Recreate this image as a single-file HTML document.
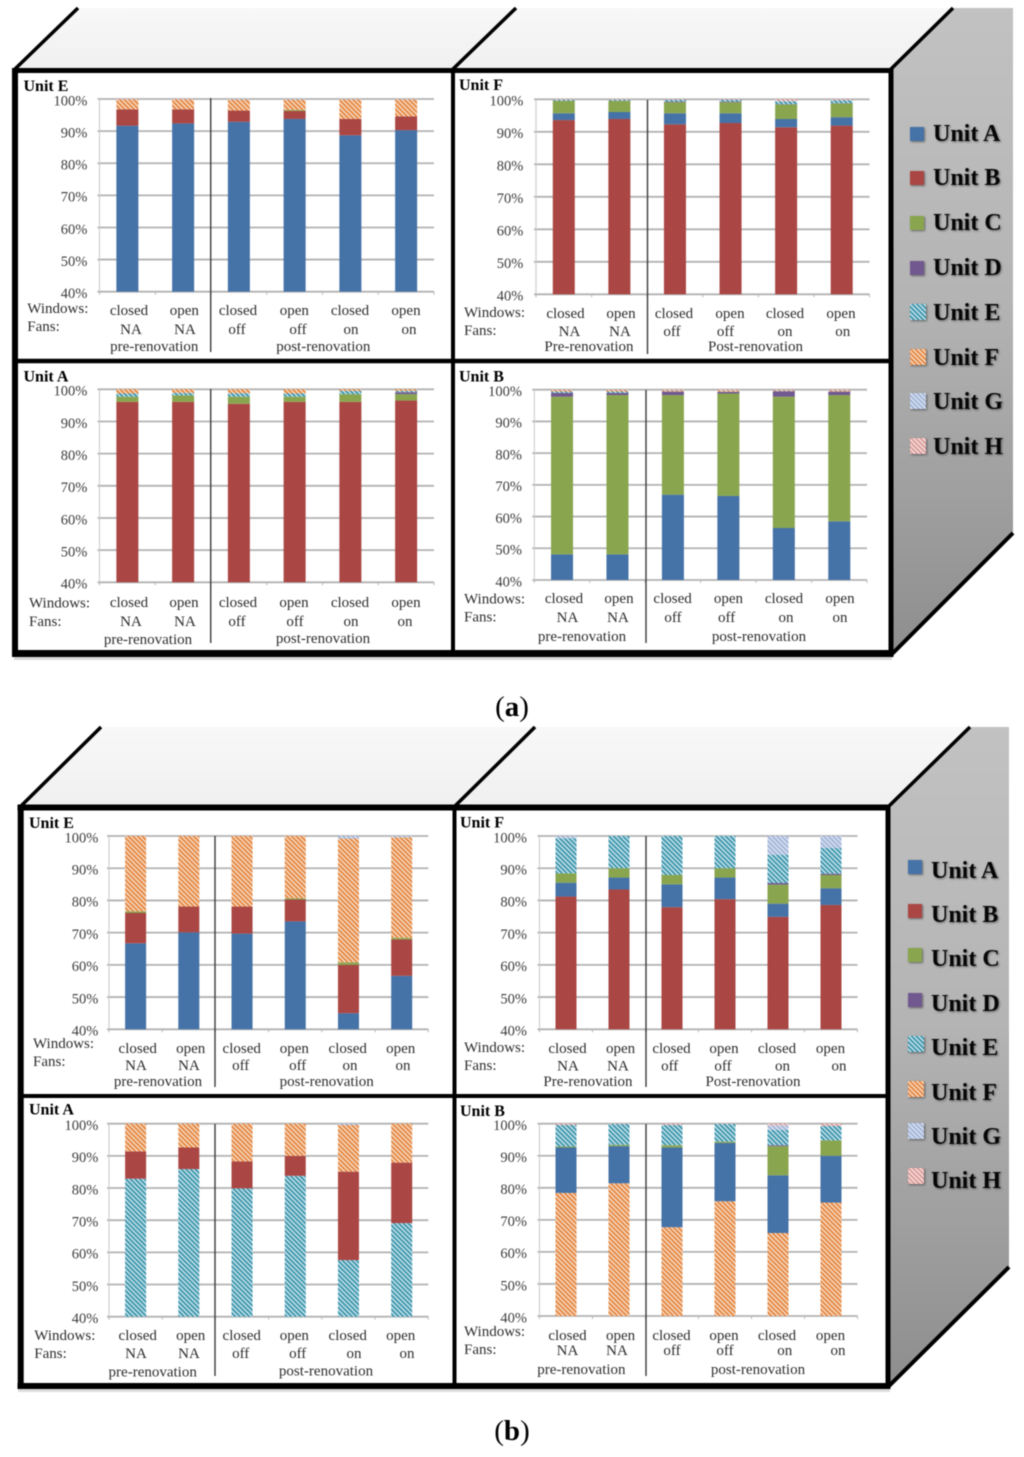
<!DOCTYPE html>
<html lang="en">
<head>
<meta charset="utf-8">
<title>Stacked share charts by unit</title>
<style>
html,body{margin:0;padding:0;background:#fff;}
#figure{display:block;width:1024px;height:1457px;filter:blur(0.45px);}
text{font-family:"Liberation Serif",serif;}
.tick{font-size:14.5px;fill:#3c3c3c;text-anchor:end;}
.cat{font-size:15px;fill:#2e2e2e;text-anchor:middle;}
.side{font-size:15px;fill:#2e2e2e;}
.title{font-size:16px;font-weight:bold;fill:#000;}
.legend-text{font-size:24px;font-weight:bold;fill:#060606;}
.caption{font-size:29px;fill:#000;text-anchor:middle;}
.legend{filter:drop-shadow(1px 1px 1px rgba(0,0,0,.45));}
</style>
</head>
<body>
<svg id="figure" xmlns="http://www.w3.org/2000/svg" width="1024" height="1457" viewBox="0 0 1024 1457">
  <defs>
    <linearGradient id="sideGradA" x1="0" y1="0" x2="0" y2="1">
      <stop offset="0" stop-color="#c2c2c2"/><stop offset="0.45" stop-color="#b4b4b4"/><stop offset="1" stop-color="#8e8e8e"/>
    </linearGradient>
    <linearGradient id="topGrad" x1="0" y1="0" x2="0" y2="1">
      <stop offset="0" stop-color="#f8f8f8"/><stop offset="1" stop-color="#f0f0f0"/>
    </linearGradient>
    <pattern id="hatchE" width="3.3" height="3.3" patternUnits="userSpaceOnUse" patternTransform="rotate(-45)">
      <rect width="3.3" height="3.3" fill="#dff0f5"/><rect width="2.1" height="3.3" fill="#4198af"/>
    </pattern>
    <pattern id="hatchF" width="3.3" height="3.3" patternUnits="userSpaceOnUse" patternTransform="rotate(-45)">
      <rect width="3.3" height="3.3" fill="#fae8d9"/><rect width="2.1" height="3.3" fill="#e58a45"/>
    </pattern>
    <pattern id="hatchG" width="3.3" height="3.3" patternUnits="userSpaceOnUse" patternTransform="rotate(-45)">
      <rect width="3.3" height="3.3" fill="#e4eaf5"/><rect width="2.1" height="3.3" fill="#a3b6d8"/>
    </pattern>
    <pattern id="hatchH" width="3.3" height="3.3" patternUnits="userSpaceOnUse" patternTransform="rotate(-45)">
      <rect width="3.3" height="3.3" fill="#f8ebeb"/><rect width="2.1" height="3.3" fill="#dc9c9a"/>
    </pattern>
  </defs>

  <!-- Figure (a) box -->
  <g>
    <polygon points="15,70 78,8 953,8 891,70" fill="url(#topGrad)"/>
    <polygon points="891,68 953,8 1013,8 1013,533 891,655" fill="url(#sideGradA)"/>
    <rect x="15" y="70" width="876" height="584" fill="#fff"/>
    <rect x="14" y="657" width="878" height="3" fill="#d8d8d8"/>
  </g>
  <!-- Figure (b) box -->
  <g>
    <polygon points="20,808 101,727 970,727 888,808" fill="url(#topGrad)"/>
    <polygon points="888,806 970,727 1009,727 1009,1267 888,1386" fill="url(#sideGradA)"/>
    <rect x="20" y="808" width="868" height="578" fill="#fff"/>
    <rect x="18" y="1389" width="872" height="3" fill="#dcdcdc"/>
  </g>

  <g id="panels"></g>

  <!-- Frame lines (a) -->
  <g stroke="#000" fill="none">
    <line x1="15" y1="69" x2="78" y2="8" stroke-width="3.5"/>
    <line x1="453" y1="69" x2="516" y2="8" stroke-width="3.5"/>
    <line x1="891" y1="69" x2="953" y2="8" stroke-width="3.5"/>
    <line x1="891" y1="655" x2="1013" y2="533" stroke-width="4"/>
    <line x1="12" y1="70.5" x2="893.5" y2="70.5" stroke-width="5"/>
    <line x1="12" y1="653.5" x2="893.5" y2="653.5" stroke-width="7"/>
    <line x1="15" y1="68" x2="15" y2="657" stroke-width="6"/>
    <line x1="891" y1="68" x2="891" y2="657" stroke-width="5"/>
    <line x1="453" y1="68" x2="453" y2="655" stroke-width="4"/>
    <line x1="15" y1="361" x2="891" y2="361" stroke-width="4.5"/>
  </g>
  <!-- Frame lines (b) -->
  <g stroke="#000" fill="none">
    <line x1="20" y1="807" x2="101" y2="727" stroke-width="3.5"/>
    <line x1="454" y1="807" x2="535" y2="727" stroke-width="3.5"/>
    <line x1="888" y1="807" x2="970" y2="727" stroke-width="3.5"/>
    <line x1="888" y1="1387" x2="1009" y2="1267" stroke-width="4"/>
    <line x1="17.5" y1="807.5" x2="890.5" y2="807.5" stroke-width="6"/>
    <line x1="17.5" y1="1386" x2="890.5" y2="1386" stroke-width="6"/>
    <line x1="20.7" y1="805" x2="20.7" y2="1389" stroke-width="6"/>
    <line x1="888" y1="805" x2="888" y2="1389" stroke-width="5"/>
    <line x1="454.5" y1="805" x2="454.5" y2="1387" stroke-width="4"/>
    <line x1="20" y1="1096" x2="888" y2="1096" stroke-width="4"/>
  </g>

  <!-- Legend (a) -->
  <g class="legend">
    <g><rect x="910" y="127" width="14" height="14" fill="#4572a7"/><text class="legend-text" x="933" y="141">Unit A</text></g>
    <g><rect x="910" y="171" width="14" height="14" fill="#aa4643"/><text class="legend-text" x="933" y="185">Unit B</text></g>
    <g><rect x="910" y="216" width="14" height="14" fill="#89a54e"/><text class="legend-text" x="933" y="230">Unit C</text></g>
    <g><rect x="910" y="261" width="14" height="14" fill="#71588f"/><text class="legend-text" x="933" y="275">Unit D</text></g>
    <g><rect x="910" y="304" width="16" height="16" fill="url(#hatchE)"/><text class="legend-text" x="933" y="320">Unit E</text></g>
    <g><rect x="910" y="349" width="16" height="16" fill="url(#hatchF)"/><text class="legend-text" x="933" y="365">Unit F</text></g>
    <g><rect x="910" y="393" width="16" height="16" fill="url(#hatchG)"/><text class="legend-text" x="933" y="409">Unit G</text></g>
    <g><rect x="910" y="438" width="16" height="16" fill="url(#hatchH)"/><text class="legend-text" x="933" y="454">Unit H</text></g>
  </g>
  <!-- Legend (b) -->
  <g class="legend">
    <g><rect x="908" y="860" width="14" height="14" fill="#4572a7"/><text class="legend-text" x="931" y="878">Unit A</text></g>
    <g><rect x="908" y="904" width="14" height="14" fill="#aa4643"/><text class="legend-text" x="931" y="922">Unit B</text></g>
    <g><rect x="908" y="948" width="14" height="14" fill="#89a54e"/><text class="legend-text" x="931" y="966">Unit C</text></g>
    <g><rect x="908" y="993" width="14" height="14" fill="#71588f"/><text class="legend-text" x="931" y="1011">Unit D</text></g>
    <g><rect x="908" y="1036" width="16" height="16" fill="url(#hatchE)"/><text class="legend-text" x="931" y="1055">Unit E</text></g>
    <g><rect x="908" y="1081" width="16" height="16" fill="url(#hatchF)"/><text class="legend-text" x="931" y="1100">Unit F</text></g>
    <g><rect x="908" y="1123" width="16" height="16" fill="url(#hatchG)"/><text class="legend-text" x="931" y="1144">Unit G</text></g>
    <g><rect x="908" y="1168" width="16" height="16" fill="url(#hatchH)"/><text class="legend-text" x="931" y="1188">Unit H</text></g>
  </g>

  <text class="caption" x="512" y="716">(<tspan font-weight="bold">a</tspan>)</text>
  <text class="caption" x="512" y="1440">(<tspan font-weight="bold">b</tspan>)</text>
</svg>

<script>
// ----- shared labels -----
const tickValues = [100, 90, 80, 70, 60, 50, 40];
const tickLabels = ['100%', '90%', '80%', '70%', '60%', '50%', '40%'];
const windowLabels = ['closed', 'open', 'closed', 'open', 'closed', 'open'];
const fanLabels = ['NA', 'NA', 'off', 'off', 'on', 'on'];

// ----- figure (a), panel Unit E: share per unit -----
const aE_A = [91.7, 92.4, 92.9, 93.8, 88.7, 90.3];
const aE_B = [5.1, 4.4, 3.5, 2.5, 5.1, 4.3];
const aE_C = [0, 0, 0, 0.3, 0, 0];
const aE_F = [3.0, 3.0, 3.4, 3.2, 6.0, 5.2];
const aE_G = [0, 0, 0.2, 0.2, 0.1, 0.1];
const aE_H = [0.2, 0.2, 0, 0, 0.1, 0.1];
// ----- figure (a), panel Unit F -----
const aF_B = [93.6, 93.95, 92.3, 92.7, 91.4, 91.9];
const aF_A = [2.1, 2.15, 3.4, 3.0, 2.55, 2.6];
const aF_C = [3.8, 3.4, 3.4, 3.4, 4.45, 4.2];
const aF_D = [0, 0, 0.2, 0.2, 0.1, 0.1];
const aF_E = [0.3, 0.3, 0.5, 0.5, 0.9, 0.9];
const aF_H = [0.2, 0.2, 0.2, 0.2, 0.6, 0.3];
// ----- figure (a), panel Unit A -----
const aA_B = [96.1, 96.1, 95.5, 96.1, 96.1, 96.5];
const aA_C = [1.6, 2.0, 2.2, 1.6, 2.4, 2.0];
const aA_D = [0, 0, 0, 0, 0, 0.6];
const aA_E = [1.0, 0.8, 1.1, 1.0, 1.0, 0.4];
const aA_F = [1.3, 1.1, 1.2, 1.3, 0.5, 0.5];
// ----- figure (a), panel Unit B -----
const aB_A = [48.1, 48.1, 66.9, 66.5, 56.4, 58.5];
const aB_C = [49.7, 50.2, 31.4, 32.3, 41.4, 39.8];
const aB_D = [1.2, 0.7, 1.1, 0.5, 1.7, 1.1];
const aB_E = [0.4, 0.4, 0.1, 0.1, 0.1, 0.1];
const aB_F = [0.4, 0.4, 0.3, 0.3, 0.2, 0.3];
const aB_H = [0.2, 0.2, 0.2, 0.3, 0.2, 0.2];
// ----- figure (b), panel Unit E -----
const bE_A = [66.7, 70.1, 69.7, 73.5, 45.0, 56.6];
const bE_B = [9.4, 8.0, 8.4, 6.8, 15.0, 11.3];
const bE_C = [0.5, 0, 0, 0.4, 0.8, 0.5];
const bE_F = [23.4, 21.9, 21.9, 19.3, 38.4, 31.2];
const bE_G = [0, 0, 0, 0, 0.8, 0.4];
// ----- figure (b), panel Unit F -----
const bF_B = [81.2, 83.4, 77.9, 80.4, 74.9, 78.6];
const bF_A = [4.3, 3.7, 7.1, 6.7, 4.1, 5.2];
const bF_C = [2.9, 2.9, 2.9, 2.9, 5.9, 4.1];
const bF_D = [0, 0, 0, 0, 0.5, 0.4];
const bF_E = [10.9, 10.0, 12.1, 10.0, 8.8, 8.0];
const bF_G = [0.7, 0, 0, 0, 5.8, 3.7];
// ----- figure (b), panel Unit A -----
const bA_E = [82.9, 85.9, 79.9, 83.8, 57.6, 69.1];
const bA_B = [8.5, 6.7, 8.4, 6.2, 27.5, 18.8];
const bA_F = [8.6, 7.4, 11.7, 10.0, 14.5, 12.1];
const bA_G = [0, 0, 0, 0, 0.4, 0];
// ----- figure (b), panel Unit B -----
const bB_F = [78.4, 81.4, 67.7, 75.8, 65.9, 75.4];
const bB_A = [14.2, 11.6, 24.9, 18.2, 18.0, 14.6];
const bB_C = [0.3, 0.4, 0.7, 0.4, 9.1, 4.8];
const bB_D = [0, 0, 0, 0, 0.3, 0];
const bB_E = [6.7, 6.5, 6.3, 5.5, 4.8, 4.5];
const bB_G = [0, 0, 0, 0, 1.4, 0];
const bB_H = [0.4, 0.1, 0.4, 0.1, 0.5, 0.7];

// ----- unit fills -----
const fills = {A: '#4572a7', B: '#aa4643', C: '#89a54e', D: '#71588f',
               E: 'url(#hatchE)', F: 'url(#hatchF)', G: 'url(#hatchG)', H: 'url(#hatchH)'};

// ----- panel layouts (geometry and text placement, not data) -----
const panels = [
  {id: 'a-unit-e', title: 'Unit E', tx: 23.5, ty: 91, x0: 99.5, x1: 434, yTop: 99, yBot: 291.7, barW: 22, tickX: 87.3, divX: 210.7, divY0: 98, divY1: 352,
   stack: [['A', aE_A], ['B', aE_B], ['C', aE_C], ['F', aE_F], ['G', aE_G], ['H', aE_H]],
   wx: [129, 184.3, 238, 294.3, 350, 406], wy: 315, fx: [131, 185, 237, 298, 351, 409], fy: 334,
   group: ['pre-renovation', 154.3, 351, 'post-renovation', 323.3, 351], sideX: 27.3, winY: 313, fanY: 331},
  {id: 'a-unit-f', title: 'Unit F', tx: 459, ty: 90, x0: 536, x1: 869.5, yTop: 99.3, yBot: 294.3, barW: 22, tickX: 523.4, divX: 647.5, divY0: 100, divY1: 354,
   stack: [['B', aF_B], ['A', aF_A], ['C', aF_C], ['D', aF_D], ['E', aF_E], ['H', aF_H]],
   wx: [565.5, 621, 674, 730, 785, 841], wy: 318, fx: [569.5, 620, 672, 725.5, 785, 842.7], fy: 336,
   group: ['Pre-renovation', 589, 351, 'Post-renovation', 755.5, 351], sideX: 464, winY: 317, fanY: 335},
  {id: 'a-unit-a', title: 'Unit A', tx: 23.5, ty: 381.5, x0: 99.5, x1: 434, yTop: 389.3, yBot: 582.3, barW: 22, tickX: 87.3, divX: 210.7, divY0: 389, divY1: 643,
   stack: [['B', aA_B], ['C', aA_C], ['D', aA_D], ['E', aA_E], ['F', aA_F]],
   wx: [129, 184, 238, 294, 350, 406], wy: 607, fx: [131, 185, 237, 295, 351, 405], fy: 626,
   group: ['pre-renovation', 148, 644, 'post-renovation', 323, 643], sideX: 29, winY: 607.5, fanY: 626},
  {id: 'a-unit-b', title: 'Unit B', tx: 459, ty: 381.5, x0: 534.3, x1: 867, yTop: 389.7, yBot: 580, barW: 22, tickX: 522, divX: 646, divY0: 390, divY1: 643,
   stack: [['A', aB_A], ['C', aB_C], ['D', aB_D], ['E', aB_E], ['F', aB_F], ['H', aB_H]],
   wx: [564, 619, 672.6, 728.4, 784, 840], wy: 603, fx: [567.5, 618, 673, 726.6, 786, 840], fy: 622,
   group: ['pre-renovation', 582, 641, 'post-renovation', 759, 641], sideX: 464, winY: 603.5, fanY: 621.5},
  {id: 'b-unit-e', title: 'Unit E', tx: 29, ty: 828, x0: 109, x1: 428.3, yTop: 836, yBot: 1029.3, barW: 21, tickX: 98.3, divX: 215, divY0: 836, divY1: 1087,
   stack: [['A', bE_A], ['B', bE_B], ['C', bE_C], ['F', bE_F], ['G', bE_G]],
   wx: [137.7, 190.7, 241.7, 294.3, 347.7, 400.7], wy: 1053, fx: [136, 189, 240.7, 297.7, 350, 403], fy: 1070,
   group: ['pre-renovation', 158, 1086, 'post-renovation', 326.7, 1086], sideX: 33, winY: 1048, fanY: 1066},
  {id: 'b-unit-f', title: 'Unit F', tx: 460, ty: 827.5, x0: 539.5, x1: 857.5, yTop: 836, yBot: 1029.3, barW: 21, tickX: 527, divX: 646, divY0: 836, divY1: 1087,
   stack: [['B', bF_B], ['A', bF_A], ['C', bF_C], ['D', bF_D], ['E', bF_E], ['G', bF_G]],
   wx: [567.5, 620.6, 671.5, 724, 777, 830.5], wy: 1053, fx: [568, 618, 669.7, 723, 782.5, 839], fy: 1070.5,
   group: ['Pre-renovation', 588, 1086, 'Post-renovation', 753, 1086], sideX: 464, winY: 1052, fanY: 1070},
  {id: 'b-unit-a', title: 'Unit A', tx: 29, ty: 1114.5, x0: 109, x1: 428.3, yTop: 1123.7, yBot: 1316.7, barW: 21, tickX: 98.3, divX: 215, divY0: 1124, divY1: 1376,
   stack: [['E', bA_E], ['B', bA_B], ['F', bA_F], ['G', bA_G]],
   wx: [137.7, 190.7, 241.7, 294.3, 347.7, 400.7], wy: 1340, fx: [136, 189, 240.7, 297.7, 354, 407], fy: 1358,
   group: ['pre-renovation', 152.7, 1376.5, 'post-renovation', 326, 1375.5], sideX: 34.3, winY: 1340, fanY: 1358},
  {id: 'b-unit-b', title: 'Unit B', tx: 460, ty: 1116, x0: 539.5, x1: 857.5, yTop: 1123.7, yBot: 1316, barW: 21, tickX: 527, divX: 646, divY0: 1124, divY1: 1376,
   stack: [['F', bB_F], ['A', bB_A], ['C', bB_C], ['D', bB_D], ['E', bB_E], ['G', bB_G], ['H', bB_H]],
   wx: [567.5, 620.6, 671.5, 724, 777, 830.5], wy: 1340, fx: [567.5, 617, 672, 725, 784.7, 838], fy: 1355,
   group: ['pre-renovation', 581.4, 1374, 'post-renovation', 758, 1374], sideX: 464, winY: 1336, fanY: 1354}
];

const NS = 'http://www.w3.org/2000/svg';
function mk(parent, tag, geom, txt) {
  const el = document.createElementNS(NS, tag);
  for (const k in geom) el.setAttribute(k, geom[k]);
  if (txt !== undefined) el.textContent = txt;
  parent.appendChild(el);
  return el;
}

const host = document.getElementById('panels');
panels.forEach(function (p) {
  const g = mk(host, 'g', {});
  
  

  // axis functions
  const yScale = function (v) { return p.yBot - (v - 40) * (p.yBot - p.yTop) / 60; };
  const catW = (p.x1 - p.x0) / windowLabels.length;
  const xScale = function (i) { return p.x0 + catW * (i + 0.5); };

  const title = mk(g, 'text', {x: p.tx, y: p.ty, class: 'title'}, p.title);
  
  

  // grid + tick labels
  tickValues.forEach(function (v, i) {
    const gy = yScale(v);
    const line = mk(g, 'line', {x1: p.x0 - 2, x2: p.x1, y1: gy, y2: gy, stroke: '#b2b2b2', 'stroke-width': 1.8});
    
    
    const lab = mk(g, 'text', {x: p.tickX, y: gy + 6.3, class: 'tick'}, tickLabels[i]);
    
    
  });
  const yAxis = mk(g, 'line', {x1: p.x0, x2: p.x0, y1: p.yTop, y2: p.yBot, stroke: '#c8c8c8', 'stroke-width': 1});
  
  
  for (let i = 0; i <= windowLabels.length; i++) {
    const tx = p.x0 + catW * i;
    const tk = mk(g, 'line', {x1: tx, x2: tx, y1: p.yBot, y2: p.yBot + 3, stroke: '#b8b8b8', 'stroke-width': 1});
    
    
  }

  // stacked bars from the data arrays
  windowLabels.forEach(function (label, i) {
    let cum = 0;
    p.stack.forEach(function (s) {
      const v = s[1][i];
      const start = cum;
      cum += v;
      if (v <= 0) return;
      const lo = Math.max(start, 40);
      if (cum <= lo) return;
      const yT = yScale(cum), yB = yScale(lo);
      const seg = mk(g, 'rect', {x: xScale(i) - p.barW / 2, y: yT, width: p.barW, height: yB - yT, fill: fills[s[0]]});
      
      
    });
  });

  // pre/post divider
  const div = mk(g, 'line', {x1: p.divX, x2: p.divX, y1: p.divY0, y2: p.divY1, stroke: '#3a3a3a', 'stroke-width': 1.4});
  
  

  // category labels
  windowLabels.forEach(function (label, i) {
    const w = mk(g, 'text', {x: p.wx[i], y: p.wy, class: 'cat'}, label);
    
    
    const f = mk(g, 'text', {x: p.fx[i], y: p.fy, class: 'cat'}, fanLabels[i]);
    
    
  });
  const winT = mk(g, 'text', {x: p.sideX, y: p.winY, class: 'side'}, 'Windows:');
  
  
  const fanT = mk(g, 'text', {x: p.sideX, y: p.fanY, class: 'side'}, 'Fans:');
  
  
  const preT = mk(g, 'text', {x: p.group[1], y: p.group[2], class: 'cat'}, p.group[0]);
  
  
  const postT = mk(g, 'text', {x: p.group[4], y: p.group[5], class: 'cat'}, p.group[3]);
  
  
});
</script>
</body>
</html>
